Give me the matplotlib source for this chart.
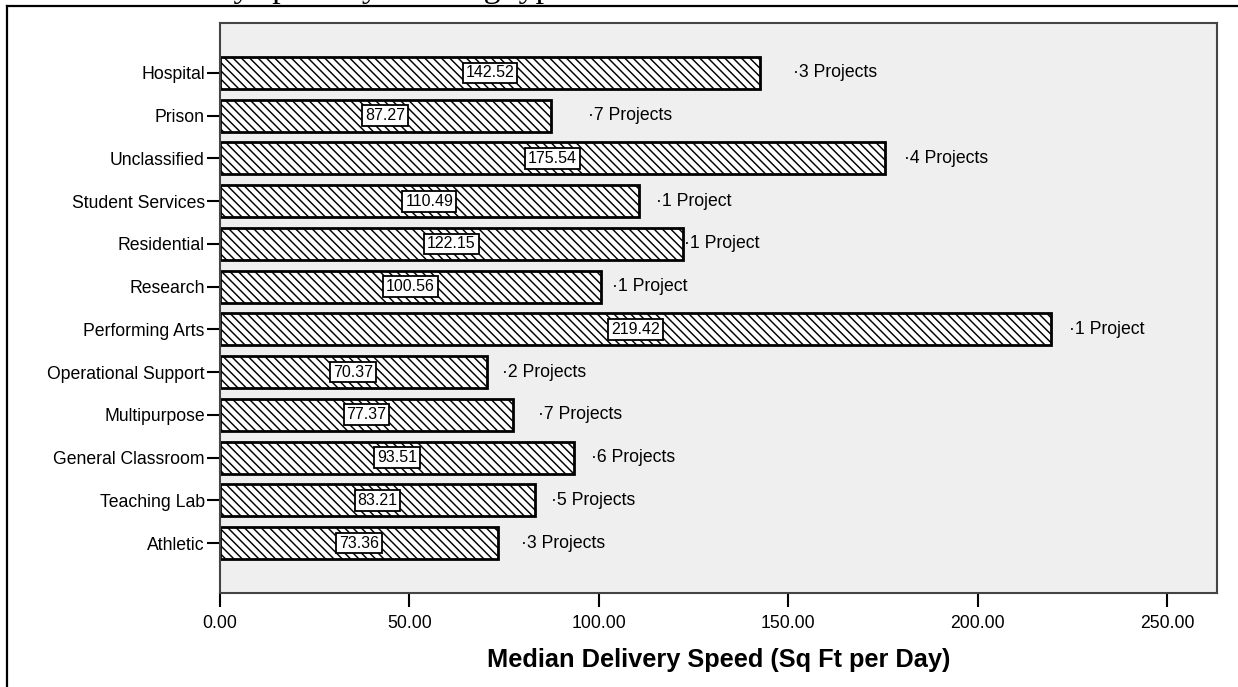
import matplotlib
matplotlib.use("Agg")
import matplotlib.pyplot as plt
from matplotlib.lines import Line2D
from matplotlib.ticker import FormatStrFormatter

# ---- data (top to bottom as displayed) ----
categories = ["Hospital", "Prison", "Unclassified", "Student Services", "Residential",
              "Research", "Performing Arts", "Operational Support", "Multipurpose",
              "General Classroom", "Teaching Lab", "Athletic"]
median_speed = [142.52, 87.27, 175.54, 110.49, 122.15, 100.56, 219.42, 70.37, 77.37,
                93.51, 83.21, 73.36]
project_counts = [3, 7, 4, 1, 1, 1, 1, 2, 7, 6, 5, 3]
x_ticks = [0, 50, 100, 150, 200, 250]
x_label = "Median Delivery Speed (Sq Ft per Day)"
title_text = "Median Delivery speed by building type"

# ---- style ----
plt.rcParams['font.family'] = ['Liberation Sans', 'DejaVu Sans']
plt.rcParams['hatch.linewidth'] = 1.05
W, H = 1238, 687
fig = plt.figure(figsize=(W / 100, H / 100), dpi=100)
fig.patch.set_facecolor('white')

ax_l, ax_r, ax_t, ax_b = 220, 1217, 23, 593
ax = fig.add_axes([ax_l / W, 1 - ax_b / H, (ax_r - ax_l) / W, (ax_b - ax_t) / H])
ax.set_facecolor('#efefef')

n = len(categories)
ypos = [n - 1 - i for i in range(n)]

BS = chr(92)
ax.barh(ypos, median_speed, height=0.75, color='white', edgecolor='black',
        hatch=BS * 4, linewidth=2, zorder=2)

# value labels in boxes at bar centres
for y, v in zip(ypos, median_speed):
    ax.text(v / 2, y, f"{v:.2f}", ha='center', va='center', fontsize=11.5, zorder=4,
            bbox=dict(boxstyle='square,pad=0.18', fc='white', ec='black', lw=1.3))

# project count labels (manually placed offsets in px from bar end)
DOT = chr(183)
label_offsets_px = [33, 37, 19, 17, 1, 11, 18, 15, 25, 17, 16, 23]
for y, v, c, off in zip(ypos, median_speed, project_counts, label_offsets_px):
    txt = f"{DOT}{c} Project" + ("s" if c != 1 else "")
    ax.annotate(txt, xy=(v, y), xytext=(off * 0.72, 0), textcoords='offset points',
                ha='left', va='center', fontsize=12.7, zorder=4)

ax.set_xlim(0, 263.2)
ax.set_ylim(-1.17, n - 1 + 1.17)
ax.set_xticks(x_ticks)
ax.xaxis.set_major_formatter(FormatStrFormatter('%.2f'))
ax.set_yticks(ypos)
ax.set_yticklabels(categories)

ax.tick_params(axis='y', length=9.4, width=1.5, pad=1.5, labelsize=12.7, color='black')
ax.tick_params(axis='x', length=10, width=1.5, pad=5.5, labelsize=12.7, color='black')
for s in ax.spines.values():
    s.set_color('#444444')
    s.set_linewidth(1.5)

ax.set_xlabel(x_label, fontsize=18.3, fontweight='bold', labelpad=11.5)

# outer frame (document box) and clipped caption above it
fig.add_artist(Line2D([7 / W, 7 / W], [0, 1 - 6 / H], transform=fig.transFigure,
                      color='black', lw=1.6))
fig.add_artist(Line2D([7 / W, 1], [1 - 6 / H, 1 - 6 / H], transform=fig.transFigure,
                      color='black', lw=1.6))
fig.text(19 / W, 1 + 3.5 / H, title_text, fontfamily='Liberation Serif', fontsize=24.5,
         ha='left', va='baseline')

fig.savefig("out.png", dpi=100)
